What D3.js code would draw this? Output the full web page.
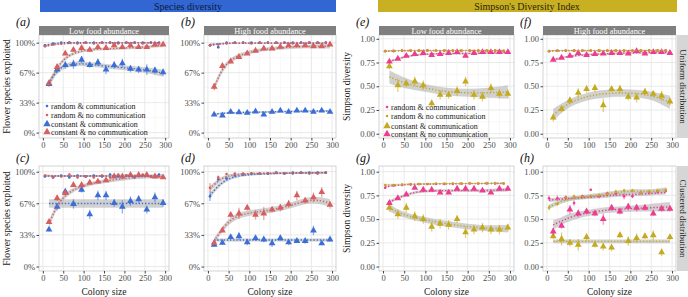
<!DOCTYPE html>
<html>
<head>
<meta charset="utf-8">
<script src="https://d3js.org/d3.v7.min.js"></script>
<style>
  body { margin: 0; background: #fff; }
</style>
</head>
<body>
<svg id="chart" width="688" height="297"></svg>
<script>
// colony sizes (random runs sit left of constant runs)
const sizesRandom = [5, 25, 45, 65, 85, 105, 125, 145, 165, 185, 205, 225, 245, 265, 285];
const sizesConstant = [15, 35, 55, 75, 95, 115, 135, 155, 175, 195, 215, 235, 255, 275, 295];
const fitXRandom = [5, 30, 60, 100, 150, 200, 250, 285];
const fitXConstant = [15, 35, 60, 100, 150, 200, 250, 295];

const seriesNames = ["random & communication", "random & no communication", "constant & communication", "constant & no communication"];
const speciesColors = ["#3b6fd6", "#d65f5f", "#3b6fd6", "#d65f5f"];
const simpsonColors = ["#ec3d8f", "#c4aa1e", "#c4aa1e", "#ec3d8f"];
const xTicks = [0, 50, 100, 150, 200, 250, 300];
const speciesTicks = [0, 1 / 3, 2 / 3, 1];
const speciesTickLabels = ["0%", "33%", "67%", "100%"];
const simpsonTicks = [0, 0.25, 0.5, 0.75, 1];
const simpsonTickLabels = ["0.00", "0.25", "0.50", "0.75", "1.00"];
const foodLabels = ["Low food abundance", "High food abundance"];
const distLabels = ["Uniform distribution", "Clustered distribution"];

// (a) species, low food, uniform  (percent)
const aRandComm = [97, 99, 100, 100, 100, 100, 100, 100, 100, 100, 100, 100, 100, 100, 100];
const aRandCommErr = [1.5, 1, 0.5, 0.5, 0.5, 0.5, 0.5, 0.5, 0.5, 0.5, 0.5, 0.5, 0.5, 0.5, 0.5];
const aRandNoComm = [96, 98, 99, 100, 99, 100, 99, 100, 100, 99, 100, 100, 99, 100, 99];
const aRandNoCommErr = [1.5, 1, 1, 0.5, 1, 0.5, 1, 0.5, 0.5, 1, 0.5, 0.5, 1, 0.5, 1];
const aConstComm = [54, 70, 75, 76, 81, 75, 78, 70, 75, 77, 71, 70, 70, 69, 67];
const aConstCommErr = [3, 4, 4, 5, 4, 3, 4, 5, 4, 5, 4, 4, 6, 4, 4];
const aConstNoComm = [55, 73, 88, 92, 94, 92, 95, 94, 97, 95, 97, 95, 95, 98, 98];
const aConstNoCommErr = [3, 3, 2, 2, 2, 2, 2, 2, 2, 2, 2, 2, 2, 1.5, 1.5];
const aRandCommFit = [97, 99.5, 100, 100, 100, 100, 100, 100];
const aRandCommSe = [1, 0.5, 0.5, 0.5, 0.5, 0.5, 0.5, 0.5];
const aRandNoCommFit = [96, 98, 99, 99.5, 99.5, 99.5, 99.5, 99.5];
const aRandNoCommSe = [1, 0.7, 0.5, 0.5, 0.5, 0.5, 0.5, 0.7];
const aConstCommFit = [55, 70, 76, 77, 74, 72, 70, 66];
const aConstCommSe = [4, 3, 2.5, 2.5, 2.5, 2.5, 3, 4];
const aConstNoCommFit = [54, 73, 86, 92, 93, 94, 95, 97];
const aConstNoCommSe = [3, 2.5, 2, 1.5, 1.5, 1.5, 1.5, 2];

// (b) species, high food, uniform
const bRandComm = [97, 95, 100, 100, 100, 100, 100, 100, 100, 100, 100, 100, 100, 100, 100];
const bRandCommErr = [1, 1.5, 0.5, 0.5, 0.5, 0.5, 0.5, 0.5, 0.5, 0.5, 0.5, 0.5, 0.5, 0.5, 0.5];
const bRandNoComm = [97, 98, 99, 100, 100, 99, 100, 100, 100, 100, 99, 100, 100, 100, 100];
const bRandNoCommErr = [1, 1, 0.5, 0.5, 0.5, 0.5, 0.5, 0.5, 0.5, 0.5, 0.5, 0.5, 0.5, 0.5, 0.5];
const bConstComm = [20, 19, 23, 22.5, 22, 23.5, 20, 23, 24.5, 23, 24.5, 24.5, 23, 24.5, 23];
const bConstCommErr = [1, 1, 1, 1, 1, 1, 1, 1, 1, 1, 1, 1, 1, 1, 1];
const bConstNoComm = [51, 74, 79, 84, 88, 91, 93.5, 93.5, 95.5, 97, 97, 97, 96, 96, 98];
const bConstNoCommErr = [4, 3, 2, 2, 1.5, 1.5, 1.5, 1, 1, 1, 1, 1, 1, 1, 1];
const bRandCommFit = [98, 99, 99.5, 99.5, 99.5, 99.5, 99.5, 99.5];
const bRandCommSe = [1, 0.5, 0.5, 0.5, 0.5, 0.5, 0.5, 0.5];
const bRandNoCommFit = [97, 98.5, 99.5, 99.5, 99.5, 99.5, 99.5, 99.5];
const bRandNoCommSe = [1, 0.5, 0.5, 0.5, 0.5, 0.5, 0.5, 0.5];
const bConstCommFit = [20.5, 21.5, 22, 22.5, 23, 23.5, 24, 24];
const bConstCommSe = [1, 1, 1, 1, 1, 1, 1, 1];
const bConstNoCommFit = [50, 72, 83, 90, 93.5, 95, 96, 96];
const bConstNoCommSe = [4, 3, 2.5, 2, 2, 2, 2, 2.5];

// (c) species, low food, clustered
const cRandComm = [95, 94, 96, 94, 96, 95, 96, 95, 97, 95, 96, 94, 96, 95, 97];
const cRandCommErr = [1, 1, 1, 1, 1, 1, 1, 1, 1, 1, 1, 1, 1, 1, 1];
const cRandNoComm = [96, 94, 95, 97, 94, 95, 94, 96, 94, 97, 96, 95, 97, 95, 95];
const cRandNoCommErr = [1, 1, 1, 1, 1, 1, 1, 1, 1, 1, 1, 1, 1, 1, 1];
const cConstComm = [39, 63, 79, 66, 81, 55, 75, 75, 67, 63, 69, 71, 60, 73, 67];
const cConstCommErr = [2, 4, 3, 5, 3, 5, 5, 5, 4, 7, 5, 4, 4, 5, 4];
const cConstNoComm = [47, 72, 77.5, 86, 86, 88.5, 89.5, 91, 95, 95, 96.5, 96.5, 96.5, 95, 94];
const cConstNoCommErr = [2, 3, 2, 2, 2, 2, 2, 2, 1.5, 1.5, 1.5, 1.5, 1.5, 1.5, 1.5];
const cRandCommFit = [95.5, 95.5, 95.5, 95.5, 95.5, 95.5, 95.5, 95.5];
const cRandCommSe = [1, 1, 1, 1, 1, 1, 1, 1];
const cRandNoCommFit = [96, 95.5, 95.5, 95.5, 95.5, 96, 96, 95.5];
const cRandNoCommSe = [1, 1, 1, 1, 1, 1, 1, 1];
const cConstCommFit = [66.5, 66.5, 66.5, 66.5, 66.5, 66.5, 66.5, 66.5];
const cConstCommSe = [4.5, 4.5, 4.5, 4.5, 4.5, 4.5, 4.5, 4.5];
const cConstNoCommFit = [45, 65, 78, 86, 90, 93, 95, 95];
const cConstNoCommSe = [4, 3, 2.5, 2, 2, 2, 2, 2.5];

// (d) species, high food, clustered
const dRandComm = [74, 92, 93, 96, 97, 98, 98, 98, 99, 98, 99, 99, 99, 99, 99];
const dRandCommErr = [5, 2, 2, 1, 1, 1, 1, 1, 1, 1, 1, 1, 1, 1, 1];
const dRandNoComm = [83, 94, 97.5, 98, 98, 98, 98, 98, 99, 98, 98, 99, 98, 98, 99];
const dRandNoCommErr = [5, 2, 1, 1, 1, 1, 1, 1, 1, 1, 1, 1, 1, 1, 1];
const dConstComm = [23, 25, 31, 32, 25.5, 30, 28.5, 24.5, 30, 25.5, 27, 27, 38, 24.5, 28.5];
const dConstCommErr = [2, 2, 2, 4, 3, 3, 3, 4, 3, 3, 2, 3, 5, 2, 2];
const dConstNoComm = [25, 38, 54.5, 56, 62, 54.5, 56, 60, 62, 66, 75, 69.5, 73, 78.5, 65];
const dConstNoCommErr = [2, 2, 3, 6, 3, 5, 7, 3, 4, 4, 5, 3, 5, 5, 4];
const dRandCommFit = [75, 88, 95, 97, 98, 98.5, 99, 99];
const dRandCommSe = [3, 2, 1.5, 1, 1, 1, 1, 1];
const dRandNoCommFit = [82, 93, 97, 98, 98.5, 98.5, 98.5, 99];
const dRandNoCommSe = [3, 2, 1.5, 1, 1, 1, 1, 1];
const dConstCommFit = [28, 28, 28, 28, 28, 28, 28, 28];
const dConstCommSe = [1.5, 1.5, 1.5, 1.5, 1.5, 1.5, 1.5, 1.5];
const dConstNoCommFit = [27, 40, 52, 57, 59, 64, 72, 67];
const dConstNoCommSe = [3, 3, 3, 3, 3, 3, 3.5, 4];

// (e) Simpson, low food, uniform
const eRandComm = [0.87, 0.87, 0.875, 0.875, 0.875, 0.88, 0.875, 0.875, 0.875, 0.875, 0.875, 0.875, 0.875, 0.875, 0.87];
const eRandCommErr = [0.005, 0.005, 0.005, 0.005, 0.005, 0.005, 0.005, 0.005, 0.005, 0.005, 0.005, 0.005, 0.005, 0.005, 0.005];
const eRandNoComm = [0.87, 0.875, 0.875, 0.88, 0.875, 0.875, 0.875, 0.88, 0.875, 0.875, 0.88, 0.875, 0.875, 0.875, 0.875];
const eRandNoCommErr = [0.005, 0.005, 0.005, 0.005, 0.005, 0.005, 0.005, 0.005, 0.005, 0.005, 0.005, 0.005, 0.005, 0.005, 0.005];
const eConstComm = [0.71, 0.51, 0.53, 0.55, 0.51, 0.32, 0.41, 0.41, 0.45, 0.55, 0.41, 0.39, 0.48, 0.42, 0.42];
const eConstCommErr = [0.03, 0.07, 0.04, 0.05, 0.05, 0.04, 0.05, 0.04, 0.05, 0.05, 0.05, 0.05, 0.05, 0.05, 0.05];
const eConstNoComm = [0.76, 0.79, 0.82, 0.84, 0.85, 0.83, 0.84, 0.85, 0.86, 0.82, 0.85, 0.86, 0.86, 0.86, 0.86];
const eConstNoCommErr = [0.015, 0.01, 0.01, 0.01, 0.01, 0.01, 0.01, 0.01, 0.01, 0.01, 0.01, 0.01, 0.01, 0.01, 0.01];
const eRandCommFit = [0.87, 0.873, 0.875, 0.875, 0.875, 0.875, 0.875, 0.873];
const eRandCommSe = [0.005, 0.004, 0.004, 0.004, 0.004, 0.004, 0.004, 0.005];
const eRandNoCommFit = [0.872, 0.875, 0.877, 0.877, 0.877, 0.877, 0.877, 0.876];
const eRandNoCommSe = [0.005, 0.004, 0.004, 0.004, 0.004, 0.004, 0.004, 0.005];
const eConstCommFit = [0.60, 0.56, 0.52, 0.48, 0.44, 0.43, 0.43, 0.44];
const eConstCommSe = [0.07, 0.06, 0.05, 0.04, 0.04, 0.04, 0.05, 0.07];
const eConstNoCommFit = [0.76, 0.79, 0.82, 0.84, 0.845, 0.845, 0.85, 0.855];
const eConstNoCommSe = [0.012, 0.01, 0.01, 0.01, 0.01, 0.01, 0.01, 0.012];

// (f) Simpson, high food, uniform
const fRandComm = [0.87, 0.875, 0.875, 0.875, 0.875, 0.875, 0.875, 0.875, 0.875, 0.875, 0.875, 0.875, 0.88, 0.875, 0.875];
const fRandCommErr = [0.005, 0.005, 0.005, 0.005, 0.005, 0.005, 0.005, 0.005, 0.005, 0.005, 0.005, 0.005, 0.005, 0.005, 0.005];
const fRandNoComm = [0.87, 0.875, 0.875, 0.88, 0.875, 0.875, 0.88, 0.875, 0.875, 0.88, 0.875, 0.88, 0.875, 0.875, 0.88];
const fRandNoCommErr = [0.005, 0.005, 0.005, 0.005, 0.005, 0.005, 0.005, 0.005, 0.005, 0.005, 0.005, 0.005, 0.005, 0.005, 0.005];
const fConstComm = [0.17, 0.26, 0.35, 0.43, 0.47, 0.48, 0.30, 0.47, 0.47, 0.39, 0.38, 0.44, 0.42, 0.40, 0.34];
const fConstCommErr = [0.04, 0.03, 0.04, 0.05, 0.04, 0.04, 0.07, 0.03, 0.04, 0.04, 0.05, 0.04, 0.03, 0.05, 0.04];
const fConstNoComm = [0.78, 0.80, 0.82, 0.85, 0.83, 0.84, 0.845, 0.85, 0.85, 0.845, 0.87, 0.845, 0.86, 0.86, 0.85];
const fConstNoCommErr = [0.01, 0.01, 0.01, 0.01, 0.01, 0.01, 0.01, 0.01, 0.01, 0.01, 0.01, 0.01, 0.01, 0.01, 0.01];
const fRandCommFit = [0.872, 0.875, 0.875, 0.875, 0.875, 0.875, 0.876, 0.876];
const fRandCommSe = [0.005, 0.004, 0.004, 0.004, 0.004, 0.004, 0.004, 0.005];
const fRandNoCommFit = [0.872, 0.876, 0.877, 0.877, 0.877, 0.877, 0.877, 0.877];
const fRandNoCommSe = [0.005, 0.004, 0.004, 0.004, 0.004, 0.004, 0.004, 0.005];
const fConstCommFit = [0.20, 0.27, 0.34, 0.40, 0.43, 0.43, 0.41, 0.33];
const fConstCommSe = [0.06, 0.05, 0.04, 0.04, 0.04, 0.04, 0.04, 0.07];
const fConstNoCommFit = [0.78, 0.80, 0.82, 0.835, 0.845, 0.85, 0.855, 0.855];
const fConstNoCommSe = [0.012, 0.01, 0.01, 0.01, 0.01, 0.01, 0.01, 0.012];

// (g) Simpson, low food, clustered
const gRandComm = [0.83, 0.855, 0.86, 0.865, 0.87, 0.87, 0.87, 0.87, 0.87, 0.875, 0.875, 0.875, 0.875, 0.875, 0.875];
const gRandCommErr = [0.01, 0.008, 0.005, 0.005, 0.005, 0.005, 0.005, 0.005, 0.005, 0.005, 0.005, 0.005, 0.005, 0.005, 0.005];
const gRandNoComm = [0.86, 0.86, 0.865, 0.87, 0.87, 0.87, 0.875, 0.875, 0.875, 0.875, 0.88, 0.875, 0.88, 0.88, 0.875];
const gRandNoCommErr = [0.005, 0.005, 0.005, 0.005, 0.005, 0.005, 0.005, 0.005, 0.005, 0.005, 0.005, 0.005, 0.005, 0.005, 0.005];
const gConstComm = [0.62, 0.55, 0.62, 0.53, 0.50, 0.42, 0.45, 0.44, 0.50, 0.36, 0.39, 0.41, 0.39, 0.39, 0.41];
const gConstCommErr = [0.04, 0.05, 0.05, 0.05, 0.05, 0.05, 0.05, 0.05, 0.04, 0.06, 0.05, 0.05, 0.05, 0.05, 0.04];
const gConstNoComm = [0.67, 0.72, 0.76, 0.83, 0.81, 0.81, 0.78, 0.78, 0.82, 0.82, 0.82, 0.80, 0.78, 0.82, 0.82];
const gConstNoCommErr = [0.02, 0.015, 0.015, 0.01, 0.01, 0.01, 0.015, 0.015, 0.01, 0.01, 0.01, 0.01, 0.015, 0.01, 0.01];
const gRandCommFit = [0.84, 0.855, 0.865, 0.87, 0.872, 0.874, 0.875, 0.875];
const gRandCommSe = [0.008, 0.005, 0.004, 0.004, 0.004, 0.004, 0.004, 0.005];
const gRandNoCommFit = [0.86, 0.863, 0.868, 0.872, 0.875, 0.877, 0.878, 0.878];
const gRandNoCommSe = [0.006, 0.005, 0.004, 0.004, 0.004, 0.004, 0.004, 0.005];
const gConstCommFit = [0.62, 0.57, 0.53, 0.49, 0.45, 0.42, 0.40, 0.40];
const gConstCommSe = [0.04, 0.03, 0.03, 0.03, 0.03, 0.03, 0.03, 0.04];
const gConstNoCommFit = [0.68, 0.72, 0.77, 0.80, 0.80, 0.80, 0.80, 0.81];
const gConstNoCommSe = [0.02, 0.015, 0.015, 0.015, 0.015, 0.015, 0.015, 0.02];

// (h) Simpson, high food, clustered
const hRandComm = [0.72, 0.72, 0.73, 0.67, 0.74, 0.81, 0.74, 0.77, 0.77, 0.74, 0.74, 0.78, 0.78, 0.79, 0.80];
const hRandCommErr = [0.03, 0.03, 0.02, 0.03, 0.02, 0.01, 0.02, 0.02, 0.02, 0.03, 0.02, 0.02, 0.02, 0.02, 0.02];
const hRandNoComm = [0.62, 0.66, 0.72, 0.74, 0.73, 0.74, 0.75, 0.76, 0.79, 0.80, 0.80, 0.78, 0.79, 0.80, 0.81];
const hRandNoCommErr = [0.03, 0.02, 0.02, 0.02, 0.02, 0.02, 0.02, 0.02, 0.02, 0.02, 0.02, 0.02, 0.02, 0.02, 0.02];
const hConstComm = [0.32, 0.29, 0.25, 0.23, 0.31, 0.23, 0.21, 0.20, 0.33, 0.27, 0.30, 0.32, 0.33, 0.15, 0.31];
const hConstCommErr = [0.03, 0.07, 0.04, 0.06, 0.04, 0.03, 0.04, 0.04, 0.03, 0.05, 0.05, 0.03, 0.05, 0.04, 0.03];
const hConstNoComm = [0.37, 0.43, 0.60, 0.56, 0.58, 0.56, 0.50, 0.62, 0.58, 0.63, 0.62, 0.62, 0.56, 0.61, 0.61];
const hConstNoCommErr = [0.04, 0.03, 0.05, 0.04, 0.03, 0.03, 0.06, 0.03, 0.03, 0.04, 0.04, 0.03, 0.03, 0.03, 0.03];
const hRandCommFit = [0.70, 0.71, 0.72, 0.73, 0.75, 0.76, 0.77, 0.78];
const hRandCommSe = [0.02, 0.02, 0.02, 0.02, 0.02, 0.02, 0.02, 0.02];
const hRandNoCommFit = [0.63, 0.68, 0.72, 0.74, 0.77, 0.80, 0.79, 0.81];
const hRandNoCommSe = [0.025, 0.02, 0.02, 0.02, 0.02, 0.02, 0.02, 0.025];
const hConstCommFit = [0.265, 0.265, 0.265, 0.265, 0.265, 0.265, 0.265, 0.265];
const hConstCommSe = [0.02, 0.02, 0.02, 0.02, 0.02, 0.02, 0.02, 0.02];
const hConstNoCommFit = [0.44, 0.48, 0.53, 0.57, 0.60, 0.61, 0.62, 0.63];
const hConstNoCommSe = [0.05, 0.04, 0.04, 0.03, 0.03, 0.03, 0.04, 0.05];

// layout
const serif = "'Liberation Serif', 'DejaVu Serif', serif";
const cols = [{ l: 39, r: 169 }, { l: 204, r: 336 }, { l: 379, r: 514 }, { l: 543, r: 676 }];
const rows = [{ t: 35, b: 138 }, { t: 166, b: 271 }];
const xDomain = [-9.5, 309.5];

const panels = [
  { label: "(a)", col: 0, row: 0, metric: "species", series: [
    [aRandComm, aRandCommErr, aRandCommFit, aRandCommSe], [aRandNoComm, aRandNoCommErr, aRandNoCommFit, aRandNoCommSe],
    [aConstComm, aConstCommErr, aConstCommFit, aConstCommSe], [aConstNoComm, aConstNoCommErr, aConstNoCommFit, aConstNoCommSe]] },
  { label: "(b)", col: 1, row: 0, metric: "species", series: [
    [bRandComm, bRandCommErr, bRandCommFit, bRandCommSe], [bRandNoComm, bRandNoCommErr, bRandNoCommFit, bRandNoCommSe],
    [bConstComm, bConstCommErr, bConstCommFit, bConstCommSe], [bConstNoComm, bConstNoCommErr, bConstNoCommFit, bConstNoCommSe]] },
  { label: "(c)", col: 0, row: 1, metric: "species", series: [
    [cRandComm, cRandCommErr, cRandCommFit, cRandCommSe], [cRandNoComm, cRandNoCommErr, cRandNoCommFit, cRandNoCommSe],
    [cConstComm, cConstCommErr, cConstCommFit, cConstCommSe], [cConstNoComm, cConstNoCommErr, cConstNoCommFit, cConstNoCommSe]] },
  { label: "(d)", col: 1, row: 1, metric: "species", series: [
    [dRandComm, dRandCommErr, dRandCommFit, dRandCommSe], [dRandNoComm, dRandNoCommErr, dRandNoCommFit, dRandNoCommSe],
    [dConstComm, dConstCommErr, dConstCommFit, dConstCommSe], [dConstNoComm, dConstNoCommErr, dConstNoCommFit, dConstNoCommSe]] },
  { label: "(e)", col: 2, row: 0, metric: "simpson", series: [
    [eRandComm, eRandCommErr, eRandCommFit, eRandCommSe], [eRandNoComm, eRandNoCommErr, eRandNoCommFit, eRandNoCommSe],
    [eConstComm, eConstCommErr, eConstCommFit, eConstCommSe], [eConstNoComm, eConstNoCommErr, eConstNoCommFit, eConstNoCommSe]] },
  { label: "(f)", col: 3, row: 0, metric: "simpson", series: [
    [fRandComm, fRandCommErr, fRandCommFit, fRandCommSe], [fRandNoComm, fRandNoCommErr, fRandNoCommFit, fRandNoCommSe],
    [fConstComm, fConstCommErr, fConstCommFit, fConstCommSe], [fConstNoComm, fConstNoCommErr, fConstNoCommFit, fConstNoCommSe]] },
  { label: "(g)", col: 2, row: 1, metric: "simpson", series: [
    [gRandComm, gRandCommErr, gRandCommFit, gRandCommSe], [gRandNoComm, gRandNoCommErr, gRandNoCommFit, gRandNoCommSe],
    [gConstComm, gConstCommErr, gConstCommFit, gConstCommSe], [gConstNoComm, gConstNoCommErr, gConstNoCommFit, gConstNoCommSe]] },
  { label: "(h)", col: 3, row: 1, metric: "simpson", series: [
    [hRandComm, hRandCommErr, hRandCommFit, hRandCommSe], [hRandNoComm, hRandNoCommErr, hRandNoCommFit, hRandNoCommSe],
    [hConstComm, hConstCommErr, hConstCommFit, hConstCommSe], [hConstNoComm, hConstNoCommErr, hConstNoCommFit, hConstNoCommSe]] }
];

const svg = d3.select("#chart");
const tri = d3.symbol().type(d3.symbolTriangle).size(20);

// banners
svg.append("rect").attr("x", 40).attr("y", 0).attr("width", 296).attr("height", 12).attr("fill", "#3266d3");
svg.append("text").attr("x", 188).attr("y", 9.5).attr("text-anchor", "middle")
  .attr("font-size", 10).attr("fill", "#0d1a3a").text("Species diversity");
svg.append("rect").attr("x", 378).attr("y", 0).attr("width", 299).attr("height", 12).attr("fill", "#c9b022");
svg.append("text").attr("x", 527).attr("y", 9.5).attr("text-anchor", "middle")
  .attr("font-size", 10).attr("fill", "#2a2406").text("Simpson's Diversity Index");

panels.forEach((p) => {
  const c = cols[p.col], r = rows[p.row];
  const isSpecies = p.metric === "species";
  const k = isSpecies ? 100 : 1;
  const colors = isSpecies ? speciesColors : simpsonColors;
  let yDomain;
  if (p.row === 1) yDomain = [-0.047, 1.06];
  else yDomain = isSpecies ? [-0.06, 1.085] : [-0.045, 1.04];
  const x = d3.scaleLinear().domain(xDomain).range([c.l, c.r]);
  const y = d3.scaleLinear().domain(yDomain).range([r.b, r.t]);
  const yTicks = isSpecies ? speciesTicks : simpsonTicks;
  const yLabels = isSpecies ? speciesTickLabels : simpsonTickLabels;
  const g = svg.append("g");

  g.append("rect").attr("x", c.l).attr("y", r.t).attr("width", c.r - c.l).attr("height", r.b - r.t).attr("fill", "#fff");

  // grid
  const xMinor = d3.range(25, 300, 50);
  const yMinor = d3.pairs(yTicks).map(([a, b]) => (a + b) / 2);
  g.selectAll(".xm").data(xMinor).enter().append("line")
    .attr("x1", (d) => x(d)).attr("x2", (d) => x(d)).attr("y1", r.t).attr("y2", r.b)
    .attr("stroke", "#f2f2f2").attr("stroke-width", 0.6);
  g.selectAll(".ym").data(yMinor).enter().append("line")
    .attr("x1", c.l).attr("x2", c.r).attr("y1", (d) => y(d)).attr("y2", (d) => y(d))
    .attr("stroke", "#f2f2f2").attr("stroke-width", 0.6);
  g.selectAll(".xg").data(xTicks).enter().append("line")
    .attr("x1", (d) => x(d)).attr("x2", (d) => x(d)).attr("y1", r.t).attr("y2", r.b)
    .attr("stroke", "#e6e6e6").attr("stroke-width", 0.9);
  g.selectAll(".yg").data(yTicks).enter().append("line")
    .attr("x1", c.l).attr("x2", c.r).attr("y1", (d) => y(d)).attr("y2", (d) => y(d))
    .attr("stroke", "#e6e6e6").attr("stroke-width", 0.9);

  // ribbons
  p.series.forEach((s, i) => {
    const fx = i < 2 ? fitXRandom : fitXConstant;
    const rib = fx.map((v, j) => ({ x: v, lo: (s[2][j] - s[3][j]) / k, hi: (s[2][j] + s[3][j]) / k }));
    g.append("path").datum(rib)
      .attr("d", d3.area().curve(d3.curveBasis).x((d) => x(d.x)).y0((d) => y(d.lo)).y1((d) => y(d.hi)))
      .attr("fill", "#b3b3b3").attr("opacity", 0.6);
  });

  // error bars + points
  p.series.forEach((s, i) => {
    const xs = i < 2 ? sizesRandom : sizesConstant;
    const pts = xs.map((v, j) => ({ x: v, v: s[0][j] / k, e: s[1][j] / k }));
    g.selectAll(null).data(pts).enter().append("line")
      .attr("x1", (d) => x(d.x)).attr("x2", (d) => x(d.x))
      .attr("y1", (d) => y(d.v - d.e)).attr("y2", (d) => y(d.v + d.e))
      .attr("stroke", colors[i]).attr("stroke-opacity", 0.55).attr("stroke-width", 1.3);
    if (i < 2) {
      g.selectAll(null).data(pts).enter().append("circle")
        .attr("cx", (d) => x(d.x)).attr("cy", (d) => y(d.v)).attr("r", 1.3).attr("fill", colors[i]);
    } else {
      g.selectAll(null).data(pts).enter().append("path")
        .attr("d", tri).attr("transform", (d) => `translate(${x(d.x)},${y(d.v)})`).attr("fill", colors[i]);
    }
  });

  // dotted smooth lines
  p.series.forEach((s, i) => {
    const fx = i < 2 ? fitXRandom : fitXConstant;
    const fit = fx.map((v, j) => ({ x: v, y: s[2][j] / k }));
    g.append("path").datum(fit)
      .attr("d", d3.line().curve(d3.curveBasis).x((d) => x(d.x)).y((d) => y(d.y)))
      .attr("fill", "none").attr("stroke", colors[i]).attr("stroke-width", 1.4)
      .attr("stroke-dasharray", "1.3,1.9");
  });

  // panel border
  g.append("rect").attr("x", c.l).attr("y", r.t).attr("width", c.r - c.l).attr("height", r.b - r.t)
    .attr("fill", "none").attr("stroke", "#c8c8c8").attr("stroke-width", 0.8);

  // axes
  const xAxis = g.append("g").attr("transform", `translate(0,${r.b})`)
    .call(d3.axisBottom(x).tickValues(xTicks).tickSize(2.5).tickPadding(1.5));
  const yAxis = g.append("g").attr("transform", `translate(${c.l},0)`)
    .call(d3.axisLeft(y).tickValues(yTicks).tickFormat((d, j) => yLabels[j]).tickSize(2.5).tickPadding(1.5));
  [xAxis, yAxis].forEach((a) => {
    a.attr("font-family", serif);
    a.select(".domain").remove();
    a.selectAll("line").attr("stroke", "#444");
    a.selectAll("text").attr("font-size", 8.5).attr("fill", "#4d4d4d");
  });

  // panel tag
  svg.append("text").attr("x", c.l - 23).attr("y", r.t - (p.row === 0 ? 9 : 4))
    .attr("font-size", 12).attr("font-style", "italic").attr("fill", "#111").text(p.label);

  // strips
  if (p.row === 0) {
    svg.append("rect").attr("x", c.l).attr("y", 26).attr("width", c.r - c.l).attr("height", 9).attr("fill", "#7f7f7f");
    svg.append("text").attr("x", (c.l + c.r) / 2).attr("y", 33.5).attr("text-anchor", "middle")
      .attr("font-size", 8.3).attr("fill", "#fff").text(foodLabels[p.col % 2]);
  }
  if (p.col === 3) {
    svg.append("rect").attr("x", 677).attr("y", r.t).attr("width", 11).attr("height", r.b - r.t).attr("fill", "#d6d6d6");
    svg.append("text").attr("transform", `translate(680,${(r.t + r.b) / 2}) rotate(90)`)
      .attr("text-anchor", "middle").attr("font-size", 9).attr("fill", "#1a1a1a").text(distLabels[p.row]);
  }
  if (p.row === 1) {
    svg.append("text").attr("x", (c.l + c.r) / 2).attr("y", 295).attr("text-anchor", "middle")
      .attr("font-size", 9.5).attr("fill", "#1a1a1a").text("Colony size");
  }
  if (p.col === 0 || p.col === 2) {
    svg.append("text").attr("transform", `translate(${c.l - 29},${(r.t + r.b) / 2}) rotate(-90)`)
      .attr("text-anchor", "middle").attr("font-size", 9.5).attr("fill", "#1a1a1a")
      .text(isSpecies ? "Flower species exploited" : "Simpson diversity");
  }

  // legends inside (a) and (e)
  if (p.row === 0 && (p.col === 0 || p.col === 2)) {
    const lx = c.l + 8, ly = isSpecies ? [106, 115, 124, 132] : [107, 116, 126, 134];
    seriesNames.forEach((name, i) => {
      if (i < 2) {
        svg.append("circle").attr("cx", lx).attr("cy", ly[i]).attr("r", 1.3).attr("fill", colors[i]);
      } else {
        svg.append("path").attr("d", d3.symbol().type(d3.symbolTriangle).size(24))
          .attr("transform", `translate(${lx},${ly[i]})`).attr("fill", colors[i]);
      }
      svg.append("text").attr("x", lx + 4).attr("y", ly[i] + 2.8)
        .attr("font-size", 8).attr("fill", "#222").text(name);
    });
  }
});

// every text in the figure is set in a Times-like serif
svg.selectAll("text").style("font-family", serif);
</script>
</body>
</html>
